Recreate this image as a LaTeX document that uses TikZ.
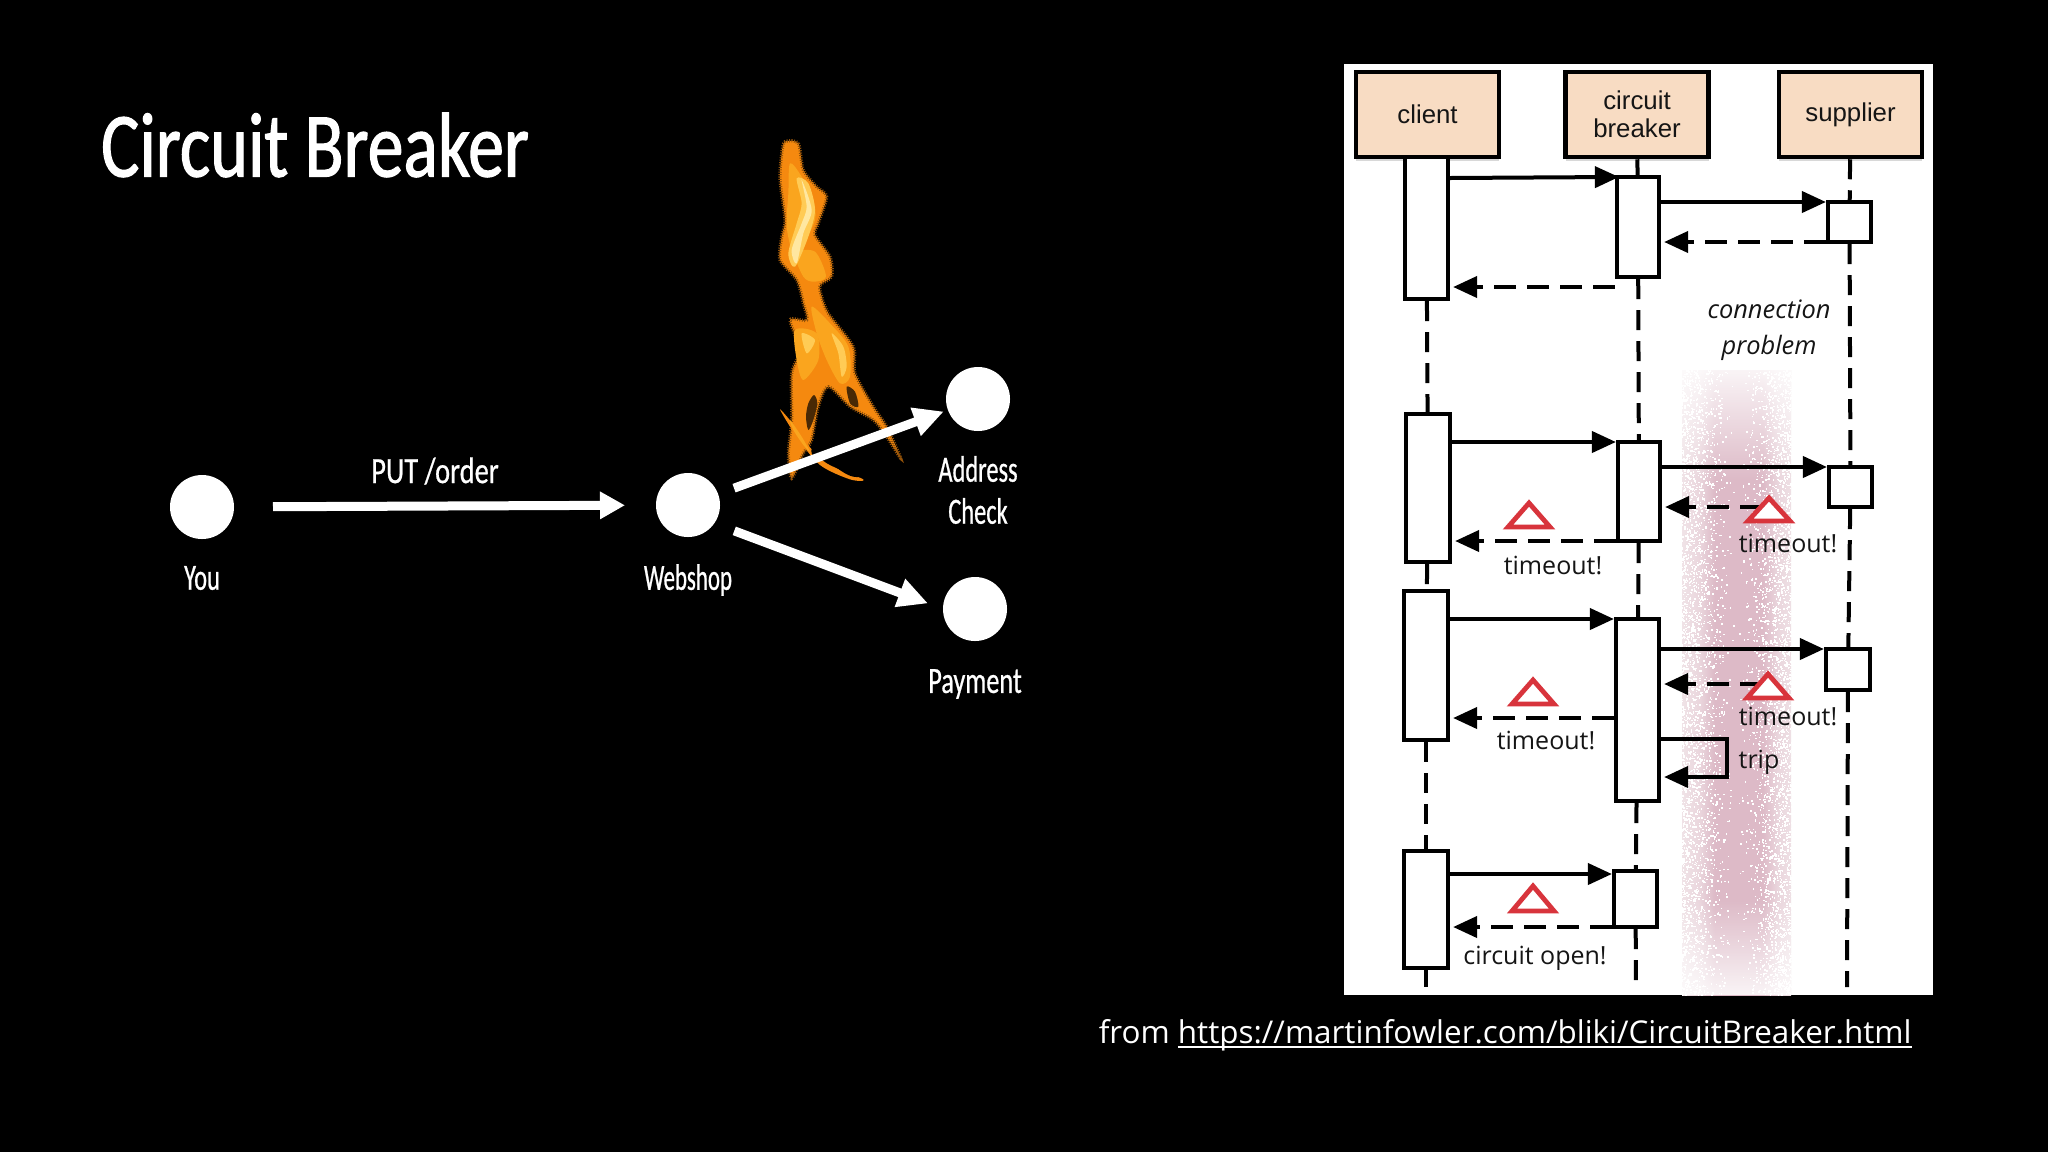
\documentclass[tikz,border=0pt]{standalone}
\usepackage{fontspec}
\setmainfont{Open Sans}
\newfontfamily\boxf{Liberation Sans}
\newfontfamily\handf[FakeStretch=0.66,FakeBold=0.6]{Carlito}
\newfontfamily\handn[FakeStretch=0.62,FakeBold=0.6]{Carlito}
\newfontfamily\handm[FakeStretch=0.71,FakeBold=0.6]{Carlito}
\newfontfamily\handw[FakeStretch=0.77,FakeBold=0.6]{Carlito}
\newfontfamily\titlef[FakeStretch=0.78,FakeBold=1.2]{Carlito}
\usetikzlibrary{arrows.meta,shadows,fadings,calc}
\definecolor{peach}{HTML}{F8DCC3}
\definecolor{bandE}{HTML}{F0E3E7}
\definecolor{bandM}{HTML}{EAD6DD}
\definecolor{bandC}{HTML}{DDBAC7}
\definecolor{warnred}{HTML}{D8343C}
\definecolor{ink}{HTML}{151515}
\definecolor{fbase}{HTML}{F5890F}
\definecolor{fmid}{HTML}{FAA51E}
\definecolor{fhi}{HTML}{FFE7A0}
\definecolor{fhi2}{HTML}{FFCB55}
\pgfdeclarehorizontalshading{bandsh}{100bp}{color(0bp)=(bandE); color(25bp)=(bandE); color(33bp)=(bandM); color(40bp)=(bandC); color(62bp)=(bandC); color(69bp)=(bandM); color(77bp)=(bandE); color(100bp)=(bandE)}
\tikzset{
  actor/.style={draw=black,fill=peach,line width=2.25pt,minimum width=71.5pt,minimum height=42.5pt,inner sep=0pt,align=center,text=ink,
    font=\boxf\fontsize{12.9}{14.4}\selectfont,drop shadow={opacity=.3,shadow xshift=0pt,shadow yshift=-2pt}},
  act/.style={draw=black,fill=white,line width=2.1pt,inner sep=0pt},
  life/.style={draw=black,line width=2pt,dash pattern=on 10pt off 5.5pt},
  msg/.style={draw=black,line width=2pt,-{Triangle[length=12pt,width=10.5pt]}},
  ret/.style={msg,dash pattern=on 11pt off 5.5pt,shorten >=1.5pt},
  warn/.style={draw=warnred,fill=white,line width=2.4pt,line join=miter},
  seq/.style={text=ink,inner sep=0pt,font=\fontsize{12.5}{15}\selectfont},
  dot/.style={circle,fill=white,minimum size=32pt,inner sep=0pt,outer sep=0pt},
  big/.style={draw=white,line width=4.5pt},
  hand/.style={text=white,inner sep=0pt,align=center,font=\handf\fontsize{18.5}{21}\selectfont},
  flamefuzz/.style={draw=#1,line width=1.6pt,dash pattern=on .5pt off .7pt},
}
\newcommand\warnmark[3]{\draw[warn] (#1-21,#3) -- (#1,#2) -- (#1+21,#3) -- cycle;}
\newcommand\myul[1]{\setbox0\hbox{#1}\rlap{\rule[-2.4pt]{\wd0}{0.9pt}}\box0}
\begin{document}
\begin{tikzpicture}[x=.5pt,y=-.5pt]
\useasboundingbox (0,0) rectangle (2048,1152);
\fill[black] (0,0) rectangle (2048,1152);
% ---- flame
\begin{scope}[shift={(740,120)},x=.16667pt,y=-.16667pt]
 \path[fill=fbase,flamefuzz=fbase!60!black] plot[smooth cycle,tension=.45] coordinates {
  (135,65)(175,70)(190,150)(230,200)(260,230)(235,310)(225,345)(270,410)(275,470)(240,495)(245,530)(265,580)(340,680)(345,760)(400,860)(440,920)(482,1015)(440,950)(400,900)(330,860)(265,800)(235,860)(215,960)(190,1000)(155,1075)(145,1000)(155,900)(155,760)(180,690)(150,600)(200,600)(190,550)(170,480)(120,420)(125,350)(135,300)(120,180)(125,100)};
 \fill[fbase] plot[smooth cycle,tension=.5] coordinates {(120,868)(170,925)(200,970)(260,1030)(370,1078)(330,1078)(240,1035)(170,950)};
 \fill[fmid] plot[smooth cycle,tension=.5] coordinates {(150,900)(185,950)(210,995)(190,975)(160,930)};
 \fill[black!70!fbase] plot[smooth cycle,tension=.5] coordinates {(205,850)(222,825)(232,850)(220,900)(205,930)(198,890)};
 \fill[black!70!fbase] plot[smooth cycle,tension=.5] coordinates {(320,800)(345,815)(355,860)(330,850)};
 \fill[black] plot[smooth cycle,tension=.5] coordinates {(215,1000)(235,920)(265,830)(300,880)(380,930)(440,1000)(440,1060)(340,1070)(270,1030)};
 \fill[fmid] plot[smooth cycle,tension=.5] coordinates {(150,130)(185,170)(220,240)(225,300)(190,370)(160,400)(140,320)(145,220)};
 \fill[fmid] plot[smooth cycle,tension=.5] coordinates {(165,400)(225,395)(258,470)(220,485)(190,470)};
 \fill[fmid] plot[smooth cycle,tension=.5] coordinates {(215,560)(270,610)(325,680)(330,770)(300,790)(260,720)(230,640)};
 \fill[fmid] plot[smooth cycle,tension=.5] coordinates {(165,630)(230,640)(235,720)(190,780)(170,720)};
 \fill[fhi2] plot[smooth cycle,tension=.5] coordinates {(170,175)(205,190)(225,270)(205,350)(165,440)(145,400)(170,310)(185,250)};
 \fill[fhi] plot[smooth cycle,tension=.5] coordinates {(185,180)(215,270)(190,340)(170,430)(155,390)(185,310)(200,260)};
 \fill[fhi2] plot[smooth cycle,tension=.5] coordinates {(275,640)(310,680)(320,740)(305,770)(295,700)};
 \fill[fhi2] plot[smooth cycle,tension=.5] coordinates {(185,640)(225,660)(200,700)};
\end{scope}
% ---- left graph
\node[dot] (you) at (202,507) {};
\node[dot] (webshop) at (688,505) {};
\node[dot] (address) at (978,399) {};
\node[dot] (payment) at (975,609) {};
\draw[big,-{Triangle[length=12.5pt,width=13pt]},shorten <=19.5pt,shorten >=15.5pt] (you) -- (webshop);
\draw[big,-{Triangle[length=15pt,width=14pt]},shorten <=8.5pt,shorten >=2.2pt] (webshop) -- (address);
\draw[big,-{Triangle[length=15pt,width=14pt]},shorten <=10.7pt,shorten >=8pt] (webshop.-35) -- (payment.180);
\node[inner sep=0pt,text=white,font=\titlef\fontsize{46}{46}\selectfont] (title) at (315,145) {Circuit Breaker};
\node[hand] (lyou) at (202,578) {You};
\node[hand,font=\handn\fontsize{18.5}{21}\selectfont] (lweb) at (688,580) {Webshop};
\node[hand] (laddr) at (978,490) {Address\\Check};
\node[hand,font=\handm\fontsize{18.5}{21}\selectfont] (lpay) at (975,684) {Payment};
\node[hand,font=\handw\fontsize{18.5}{21}\selectfont] (lput) at (435,471) {PUT /order};
% ---- panel
\fill[white] (1344,64) rectangle (1933,995);
\shade[shading=bandsh] (1682,370) rectangle (1791,995);
\fill[white,path fading=south,opacity=.85] (1682,370) rectangle (1791,480);
\fill[white,path fading=north,opacity=.85] (1682,900) rectangle (1791,995);
\pgfmathsetseed{4242}
\foreach \i in {1,...,6000}{
  \pgfmathsetmacro\uu{rand}
  \pgfmathsetmacro\xx{1736+55*(\uu<0?-1:1)*pow(abs(\uu),0.4)}
  \pgfmathsetmacro\yy{370+rnd*625}
  \fill[white] (\xx,\yy) rectangle ++(1.5,1.5);
}
% ---- nodes
\node[actor] (client) at (1427.5,114.5) {client};
\node[actor] (breaker) at (1637,114.5) {circuit\\[-.5pt]breaker};
\node[actor] (supplier) at (1850.5,114.5) {\raisebox{-.7pt}{supplier}};
\coordinate (cend) at (1426,987);
\coordinate (bend) at (1636,987);
\coordinate (send) at (1847,987);
\newcommand\actbox[5]{\node[act,minimum width=#4pt,minimum height=#5pt] (#1) at (#2,#3) {};}
\actbox{a1}{1426.5}{228}{21.5}{71}
\actbox{b1}{1638}{227}{21}{50}
\actbox{s1}{1849.5}{222}{21.5}{20}
\actbox{a2}{1428}{488}{22}{74}
\actbox{b2}{1639}{491.5}{21}{49.5}
\actbox{s2}{1850.5}{487}{21.5}{20}
\actbox{a3}{1426}{665.5}{22}{74.5}
\actbox{b3}{1637.5}{710}{21.5}{91}
\actbox{s3}{1848}{669.5}{22}{20.5}
\actbox{a4}{1426}{909.5}{22}{58.5}
\actbox{b4}{1635.5}{899}{21.5}{28}
% ---- lifelines
\draw[life] (a1) -- (a2);
\draw[life] (a2) -- (a3);
\draw[life] (a3) -- (a4);
\draw[life] (a4) -- (cend);
\draw[life] (breaker) -- (b1);
\draw[life] (b1) -- (b2);
\draw[life] (b2) -- (b3);
\draw[life] (b3) -- (b4);
\draw[life] (b4) -- (bend);
\draw[life] (supplier) -- (s1);
\draw[life] (s1) -- (s2);
\draw[life] (s2) -- (s3);
\draw[life] (s3) -- (send);
% ---- messages
\draw[msg,shorten >=-2pt] (a1.east |- 0,178) -- (b1.west |- 0,177);
\draw[msg] (b1.east |- 0,202) -- (s1.west |- 0,202);
\draw[ret] (s1.west |- 0,242) -- (b1.east |- 0,242);
\draw[ret] (b1.west |- 0,287) -- (a1.east |- 0,287);
\draw[msg] (a2.east |- 0,442) -- (b2.west |- 0,442);
\draw[msg] (b2.east |- 0,467) -- (s2.west |- 0,467);
\coordinate (w2) at (1762,507);
\draw[ret] (w2) -- (b2.east |- w2);
\draw[ret] (b2.west |- 0,541) -- (a2.east |- 0,541);
\draw[msg] (a3.east |- 0,619) -- (b3.west |- 0,619);
\draw[msg] (b3.east |- 0,649) -- (s3.west |- 0,649);
\coordinate (w3) at (1762,684);
\draw[ret] (w3) -- (b3.east |- w3);
\draw[ret] (b3.west |- 0,718) -- (a3.east |- 0,718);
\draw[msg,shorten >=1.5pt] (b3.east |- 0,739) -- (1727,739) -- (1727,777) -- (b3.east |- 0,777);
\draw[msg] (a4.east |- 0,874) -- (b4.west |- 0,874);
\draw[ret] (b4.west |- 0,927) -- (a4.east |- 0,927);
% ---- warnings
\warnmark{1769}{498}{521}
\warnmark{1529}{503}{527}
\warnmark{1768}{674}{698}
\warnmark{1533}{680}{704}
\warnmark{1533}{886}{911}
% ---- texts
\node[seq,align=center,font=\itshape\fontsize{12.7}{18}\selectfont] (conn) at (1769,330) {connection\\problem};
\node[seq] (t1) at (1553,565) {timeout!};
\node[seq] (t2) at (1788,543) {timeout!};
\node[seq] (t3) at (1546,740) {timeout!};
\node[seq] (t4) at (1788,716) {timeout!};
\node[seq] (trip) at (1759,762) {trip};
\node[seq] (open) at (1535,958) {circuit open!};
\node[inner sep=0pt,text=white,anchor=base east,font=\fontsize{15.7}{18}\selectfont] (src) at (1912,1043) {from \myul{https://martinfowler.com/bliki/CircuitBreaker.html}};
\end{tikzpicture}
\end{document}
